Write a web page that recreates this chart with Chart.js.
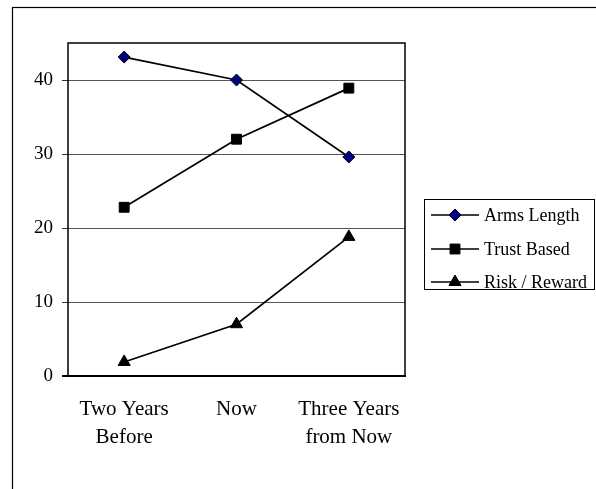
<!DOCTYPE html>
<html>
<head>
<meta charset="utf-8">
<script src="https://cdn.jsdelivr.net/npm/chart.js@4"></script>
<style>
  body { margin: 0; background: #fff; }
  canvas { display: block; }
</style>
</head>
<body>
<canvas id="myChart" width="596" height="489"></canvas>
<script>
// categories and series
var labels = [['Two Years', 'Before'], ['Now'], ['Three Years', 'from Now']];
var data_arms = [43.1, 40, 29.6];
var data_trust = [22.8, 32, 38.9];
var data_risk = [1.9, 7, 18.8];
var yTicks = [0, 10, 20, 30, 40];

var serif = "'Liberation Serif', 'Times New Roman', serif";

// outer frame + plot box
const framePlugin = {
    id: 'frame',
    beforeDraw: function(chart) {
        const ctx = chart.ctx;
        ctx.save();
        ctx.fillStyle = '#fff';
        ctx.fillRect(0, 0, chart.width, chart.height);
        ctx.strokeStyle = '#000';
        ctx.lineWidth = 1.2;
        ctx.strokeRect(12.5, 7.5, 620, 520);
        ctx.restore();
    },
    beforeDatasetsDraw: function(chart) {
        const a = chart.chartArea;
        const ctx = chart.ctx;
        ctx.save();
        ctx.strokeStyle = '#000';
        ctx.lineWidth = 1.5;
        ctx.strokeRect(a.left, a.top, a.right - a.left, a.bottom - a.top);
        ctx.lineWidth = 2;
        ctx.beginPath();
        ctx.moveTo(a.left - 6, a.bottom);
        ctx.lineTo(a.right + 1, a.bottom);
        ctx.stroke();
        ctx.restore();
    }
};

// legend box: line with marker in the middle
const legendPlugin = {
    id: 'boxLegend',
    afterDraw: function(chart) {
        const ctx = chart.ctx;
        const x0 = 424, y0 = 199, w = 170, h = 90;
        ctx.save();
        ctx.strokeStyle = '#000';
        ctx.lineWidth = 1;
        ctx.strokeRect(x0 + 0.5, y0 + 0.5, w, h);
        const rows = [215, 249, 282];
        chart.data.datasets.forEach(function(ds, i) {
            const y = rows[i];
            ctx.strokeStyle = ds.borderColor;
            ctx.lineWidth = 1.7;
            ctx.beginPath();
            ctx.moveTo(431, y);
            ctx.lineTo(479, y);
            ctx.stroke();
            ctx.fillStyle = ds.pointBackgroundColor;
            ctx.strokeStyle = ds.pointBorderColor;
            ctx.lineWidth = 1;
            Chart.helpers.drawPoint(ctx, {pointStyle: ds.pointStyle, radius: ds.pointRadius, borderWidth: 1}, 455, y);
            ctx.fillStyle = '#000';
            ctx.font = '18px ' + serif;
            ctx.textBaseline = 'middle';
            ctx.textAlign = 'left';
            ctx.fillText(ds.label, 484, y + 1);
        });
        ctx.restore();
    }
};

const ctx = document.getElementById('myChart').getContext('2d');
const myChart = new Chart(ctx, {
    type: 'line',
    data: {
        labels: labels,
        datasets: [
            {
                label: 'Arms Length',
                data: data_arms,
                borderColor: '#000',
                borderWidth: 1.7,
                pointStyle: 'rectRot',
                pointRadius: 6,
                pointBackgroundColor: '#000080',
                pointBorderColor: '#000',
                pointBorderWidth: 1
            },
            {
                label: 'Trust Based',
                data: data_trust,
                borderColor: '#000',
                borderWidth: 1.7,
                pointStyle: 'rect',
                pointRadius: 7,
                pointBackgroundColor: '#000',
                pointBorderColor: '#000',
                pointBorderWidth: 1
            },
            {
                label: 'Risk / Reward',
                data: data_risk,
                borderColor: '#000',
                borderWidth: 1.7,
                pointStyle: 'triangle',
                pointRadius: 7,
                pointBackgroundColor: '#000',
                pointBorderColor: '#000',
                pointBorderWidth: 1
            }
        ]
    },
    options: {
        responsive: false,
        animation: false,
        layout: { padding: { left: 0, top: 43, right: 191, bottom: 0 } },
        plugins: {
            legend: { display: false },
            tooltip: { enabled: false }
        },
        scales: {
            x: {
                offset: true,
                grid: { display: false, drawTicks: false, tickLength: 0 },
                border: { display: false },
                ticks: {
                    color: '#000',
                    padding: 20,
                    maxRotation: 0,
                    autoSkip: false,
                    font: { family: serif, size: 21, lineHeight: 1.33 }
                },
                afterFit: function(scale) { scale.height = 113; }
            },
            y: {
                min: 0,
                max: 45,
                grid: { color: '#555', lineWidth: 1, tickLength: 6, tickColor: '#333' },
                border: { display: false },
                ticks: {
                    color: '#000',
                    padding: 9,
                    font: { family: serif, size: 19 }
                },
                afterBuildTicks: function(scale) {
                    scale.ticks = yTicks.map(function(v) { return { value: v }; });
                },
                afterFit: function(scale) { scale.width = 68; }
            }
        }
    },
    plugins: [framePlugin, legendPlugin]
});
</script>
</body>
</html>
